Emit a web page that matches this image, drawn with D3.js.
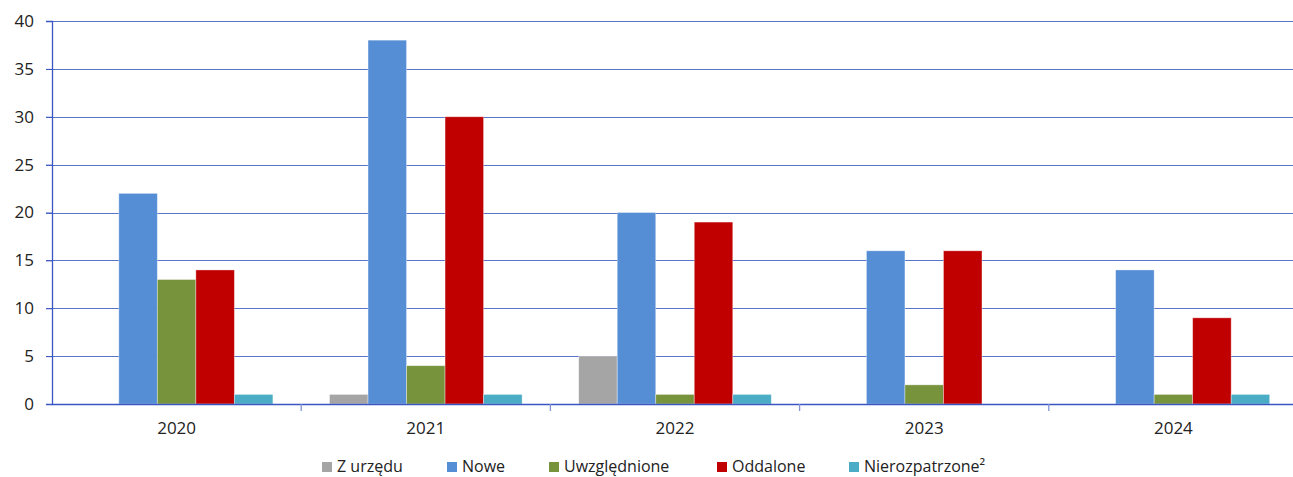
<!DOCTYPE html>
<html><head><meta charset="utf-8">
<script src="https://cdn.jsdelivr.net/npm/d3@7"></script>
<style>body{margin:0;background:#fff;overflow:hidden}svg{display:block}text{font-family:"Open Sans",sans-serif;fill:#222}</style>
</head><body><svg id="c" width="1293" height="477"></svg>
<script>
const categories = ["2020","2021","2022","2023","2024"];
const seriesNames = ["Z urzędu","Nowe","Uwzględnione","Oddalone","Nierozpatrzone²"];
const zUrzedu = [0,1,5,0,0];
const nowe = [22,38,20,16,14];
const uwzglednione = [13,4,1,2,1];
const oddalone = [14,30,19,16,9];
const nierozpatrzone = [1,1,1,0,1];
const yTicks = [0,5,10,15,20,25,30,35,40];
const colors = ["#a5a5a5","#558ed5","#77933c","#c00000","#4bacc6"];
const seriesValues = [zUrzedu,nowe,uwzglednione,oddalone,nierozpatrzone];

const svg = d3.select("#c");
const mLeft = 52, mRight = 1298, mTop = 21, mBottom = 404;
const x = d3.scaleBand().domain(categories).range([mLeft,mRight]).paddingInner(0).paddingOuter(0);
const xs = d3.scaleBand().domain(seriesNames).range([0,x.bandwidth()]).paddingOuter(0.735).paddingInner(0);
const y = d3.scaleLinear().domain([0,40]).range([mBottom,mTop]);

// gridlines
svg.append("g").selectAll("line").data(yTicks.filter(d=>d>0)).join("line")
  .attr("x1",mLeft-6).attr("x2",mRight).attr("y1",d=>Math.round(y(d))+0.5).attr("y2",d=>Math.round(y(d))+0.5)
  .attr("stroke","#5a74c9").attr("stroke-width",1.2);

// bars
const g = svg.append("g");
categories.forEach((c,i)=>{
  seriesNames.forEach((s,j)=>{
    const v = seriesValues[j][i];
    if(v<=0) return;
    g.append("rect").attr("x",x(c)+xs(s)).attr("y",y(v)).attr("width",xs.bandwidth()).attr("height",y(0)-y(v))
      .attr("fill",colors[j]).attr("stroke","rgba(255,255,255,0.45)").attr("stroke-width",0.8);
  });
});

// y axis
const ya = svg.append("g").attr("transform",`translate(${mLeft},0)`)
  .call(d3.axisLeft(y).tickValues(yTicks).tickSize(6).tickPadding(12));
ya.select(".domain").attr("stroke","#3b56c0").attr("stroke-width",1.3);
ya.selectAll(".tick line").attr("stroke","#3b56c0");
ya.selectAll("text").style("font-size","17px").style("font-family","Open Sans").attr("fill","#1a1a1a");

// x axis
const xa = svg.append("g").attr("transform",`translate(0,${mBottom})`)
  .call(d3.axisBottom(x).tickSize(0).tickPadding(18));
xa.select(".domain").attr("stroke","#3b56c0").attr("stroke-width",1.3);
xa.selectAll("text").style("font-size","17px").style("font-family","Open Sans").attr("fill","#1a1a1a");
svg.append("g").selectAll("line").data(categories.slice(1)).join("line")
  .attr("x1",d=>x(d)).attr("x2",d=>x(d)).attr("y1",mBottom).attr("y2",mBottom+7)
  .attr("stroke","#7f93d6").attr("stroke-width",1.3);

// legend
const legX = [322,447,549,717,849];
const leg = svg.append("g");
seriesNames.forEach((s,j)=>{
  leg.append("rect").attr("x",legX[j]).attr("y",462).attr("width",10).attr("height",10).attr("fill",colors[j]);
  leg.append("text").attr("x",legX[j]+15).attr("y",472).text(s).style("font-size","16px").attr("fill","#1a1a1a");
});
</script></body></html>
